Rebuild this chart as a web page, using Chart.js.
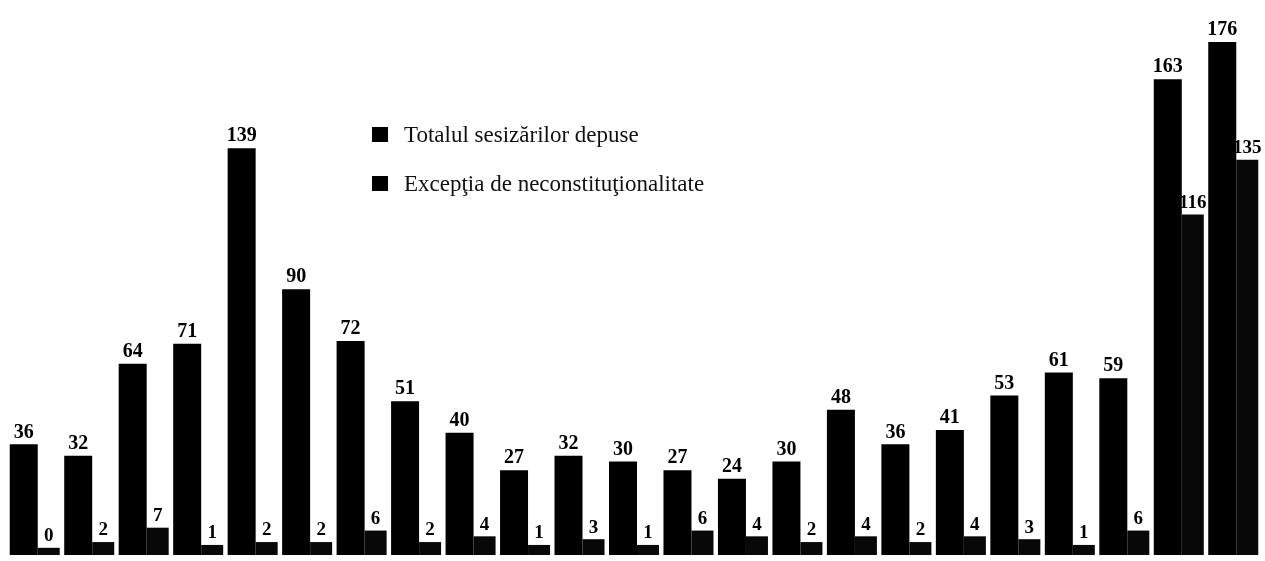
<!DOCTYPE html>
<html>
<head>
<meta charset="utf-8">
<script src="https://cdn.jsdelivr.net/npm/chart.js@4.4.0/dist/chart.umd.min.js"></script>
<style>
  body { margin: 0; background: #fff; }
</style>
</head>
<body>
<canvas id="c" width="1265" height="561"></canvas>
<script>
// one entry per period, left to right
const categories = ['1','2','3','4','5','6','7','8','9','10','11','12','13','14','15','16','17','18','19','20','21','22','23'];
const totalSesizari = [36, 32, 64, 71, 139, 90, 72, 51, 40, 27, 32, 30, 27, 24, 30, 48, 36, 41, 53, 61, 59, 163, 176];
const exceptii = [0, 2, 7, 1, 2, 2, 6, 2, 4, 1, 3, 1, 6, 4, 2, 4, 2, 4, 3, 1, 6, 116, 135];
const seriesNames = ['Totalul sesizărilor depuse', 'Excepţia de neconstituţionalitate'];

// the bars stand on a small plinth, so they start a bit below zero
const BASE = -2.5;

// numbers above the bars
const valueLabels = {
    id: 'valueLabels',
    afterDatasetsDraw(chart) {
        const ctx = chart.ctx;
        ctx.save();
        ctx.fillStyle = '#000';
        ctx.textAlign = 'center';
        ctx.textBaseline = 'bottom';
        chart.data.datasets.forEach((ds, i) => {
            ctx.font = i === 0 ? 'bold 20px "Liberation Serif"' : 'bold 19px "Liberation Serif"';
            chart.getDatasetMeta(i).data.forEach((bar, j) => {
                ctx.fillText(ds.data[j], bar.x, bar.y - 2);
            });
        });
        ctx.restore();
    }
};

// legend in the free space, drawn by hand
const boxLegend = {
    id: 'boxLegend',
    afterDraw(chart) {
        const ctx = chart.ctx;
        ctx.save();
        ctx.font = '23px "Liberation Serif"';
        ctx.textBaseline = 'alphabetic';
        chart.data.datasets.forEach((ds, i) => {
            const y = 142 + i * 49;
            ctx.fillStyle = '#000';
            ctx.fillRect(372, y - 15, 16, 15);
            ctx.fillStyle = '#111';
            ctx.fillText(ds.label, 404, y);
        });
        ctx.restore();
    }
};

new Chart(document.getElementById('c'), {
    type: 'bar',
    data: {
        labels: categories,
        datasets: [
            { label: seriesNames[0], data: totalSesizari, backgroundColor: '#000', base: BASE, barPercentage: 1.12 },
            { label: seriesNames[1], data: exceptii, backgroundColor: '#080808', base: BASE, barPercentage: 0.88 }
        ]
    },
    options: {
        responsive: false,
        animation: false,
        layout: { padding: { left: 9, right: 3, top: 0, bottom: 6 } },
        datasets: { bar: { categoryPercentage: 0.918 } },
        plugins: { legend: { display: false }, tooltip: { enabled: false } },
        scales: {
            x: { display: false },
            y: { display: false, min: BASE, max: 190.6 }
        }
    },
    plugins: [valueLabels, boxLegend]
});
</script>
</body>
</html>
